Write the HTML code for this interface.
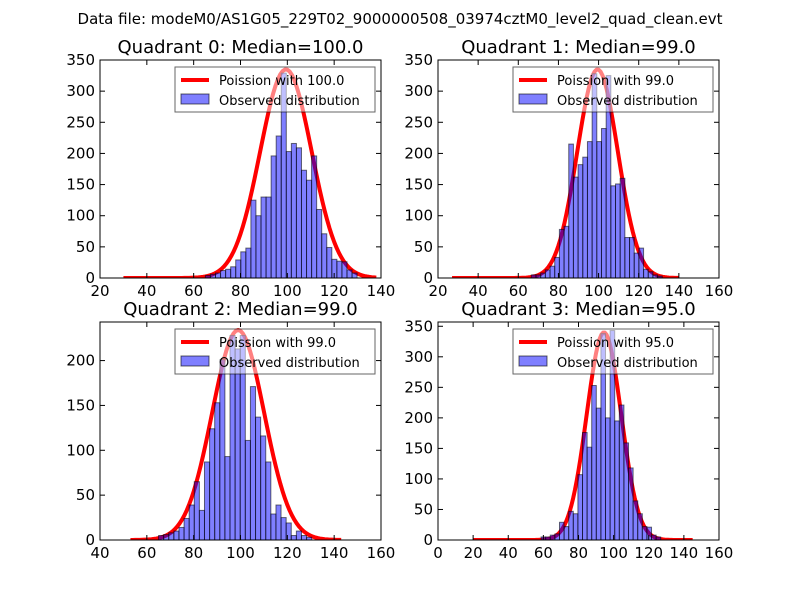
<!DOCTYPE html>
<html><head><meta charset="utf-8"><style>
body{margin:0;background:#fff;}
svg text{font-family:"DejaVu Sans","Liberation Sans",sans-serif;}
</style></head><body>
<svg id="fig" width="800" height="600" xmlns="http://www.w3.org/2000/svg">
<rect width="800" height="600" fill="#fff"/>
<text x="400" y="24" text-anchor="middle" font-size="15">Data file: modeM0/AS1G05_229T02_9000000508_03974cztM0_level2_quad_clean.evt</text>
</svg>
<script>
// Quadrant data
const q0Counts=[4,6,8,12,14,18,29,42,48,125,100,130,130,196,228,329,203,216,209,173,157,196,110,71,49,30,27,26,13,8];
const q0Start=[65.0]; const q0Width=[2.16];
const q1Counts=[5,5,8,13,19,33,78,83,215,162,182,194,219,328,219,240,325,148,151,160,65,65,40,48,14,10,5,3];
const q1Start=[66.5]; const q1Width=[2.33];
const q2Counts=[5,6,8,10,14,24,39,65,33,87,124,153,201,93,228,213,228,111,171,137,116,87,29,39,25,19,5,10,5,3];
const q2Start=[65.0]; const q2Width=[2.18];
const q3Counts=[5,5,8,10,29,22,47,43,107,176,152,253,216,338,200,343,195,221,159,118,64,43,22,21,8,5];
const q3Start=[58.7]; const q3Width=[2.62];
const lambdas=[100,99,99,95];
const curveCenters=[99.4,99.5,99,94.5];
const sigmas=[11,10.1,11.1,9.8];
const peaks=[335,335,234,340];
const curveRange=[[30,138],[27,140],[53,143],[20,145]];
const xTicks=[[20,40,60,80,100,120,140],[20,40,60,80,100,120,140,160],[40,60,80,100,120,140,160],[0,20,40,60,80,100,120,140,160]];
const yTicks=[[0,50,100,150,200,250,300,350],[0,50,100,150,200,250,300,350],[0,50,100,150,200],[0,50,100,150,200,250,300,350]];
const xDomains=[[20,140],[20,160],[40,160],[0,160]];
const yDomains=[[0,350],[0,350],[0,243],[0,357]];
const titles=["Quadrant 0: Median=100.0","Quadrant 1: Median=99.0","Quadrant 2: Median=99.0","Quadrant 3: Median=95.0"];

const NS="http://www.w3.org/2000/svg";
const svg=document.getElementById('fig');
function mk(tag,attrs,parent){const e=document.createElementNS(NS,tag);for(const k in attrs)e.setAttribute(k,attrs[k]);(parent||svg).appendChild(e);return e;}
const boxes=[[100,60,381,278],[438,60,719,278],[100,322,381,540],[438,322,719,540]];
const counts=[q0Counts,q1Counts,q2Counts,q3Counts];
const starts=[q0Start[0],q1Start[0],q2Start[0],q3Start[0]];
const widths=[q0Width[0],q1Width[0],q2Width[0],q3Width[0]];
for(let q=0;q<4;q++){
  const [L,T,R,B]=boxes[q];
  const g=mk('g',{});
  
  
  const xd=xDomains[q],yd=yDomains[q];
  const X=v=>L+(v-xd[0])/(xd[1]-xd[0])*(R-L);
  const Y=v=>B-(v-yd[0])/(yd[1]-yd[0])*(B-T);
  const clipId='clip'+q;
  const cp=mk('clipPath',{id:clipId},g);mk('rect',{x:L,y:T,width:R-L,height:B-T},cp);
  const lam=lambdas[q],pk=peaks[q],mu=curveCenters[q],s=sigmas[q];
  let d='';
  for(let k=curveRange[q][0];k<=curveRange[q][1];k++){
    const v=pk*Math.exp(-(k-mu)*(k-mu)/(2*s*s));
    d+=(d?'L':'M')+X(k).toFixed(2)+','+Y(v).toFixed(2);
  }
  const c=mk('path',{d:d,fill:'none',stroke:'#ff0000','stroke-width':4,'stroke-linejoin':'round','clip-path':'url(#'+clipId+')'},g);
  
  
  counts[q].forEach((n,i)=>{
    const x0=starts[q]+i*widths[q];
    const b=mk('rect',{x:X(x0),y:Y(n),width:X(x0+widths[q])-X(x0),height:Y(0)-Y(n),fill:'rgba(0,0,255,0.5)',stroke:'rgba(0,0,0,0.55)','stroke-width':1,'clip-path':'url(#'+clipId+')'},g);
    
    
  });
  mk('rect',{x:L,y:T,width:R-L,height:B-T,fill:'none',stroke:'#000','stroke-width':1},g);
  xTicks[q].forEach(t=>{
    const x=X(t);
    mk('line',{x1:x,y1:B,x2:x,y2:B-5,stroke:'#000'},g);
    mk('line',{x1:x,y1:T,x2:x,y2:T+5,stroke:'#000'},g);
    const tx=mk('text',{x:x,y:B+18,'text-anchor':'middle','font-size':15},g);tx.textContent=t;
    
    
  });
  yTicks[q].forEach(t=>{
    const y=Y(t);
    mk('line',{x1:L,y1:y,x2:L+5,y2:y,stroke:'#000'},g);
    mk('line',{x1:R,y1:y,x2:R-5,y2:y,stroke:'#000'},g);
    const ty=mk('text',{x:L-5,y:y+5,'text-anchor':'end','font-size':15},g);ty.textContent=t;
    
    
  });
  const tt=mk('text',{x:(L+R)/2,y:T-7,'text-anchor':'middle','font-size':18},g);tt.textContent=titles[q];
  
  
  const lg=mk('g',{},g);
  
  
  const lx=L+75,ly=T+7;
  mk('rect',{x:lx,y:ly,width:200,height:45,fill:'rgba(255,255,255,0.5)',stroke:'rgba(0,0,0,0.6)','stroke-width':1},lg);
  mk('line',{x1:lx+6,y1:ly+13,x2:lx+34,y2:ly+13,stroke:'#ff0000','stroke-width':4},lg);
  const t1=mk('text',{x:lx+44,y:ly+18,'font-size':13},lg);t1.textContent='Poission with '+lam.toFixed(1);
  
  
  mk('rect',{x:lx+6,y:ly+27,width:28,height:10,fill:'rgba(0,0,255,0.5)',stroke:'rgba(0,0,0,0.6)'},lg);
  const t2=mk('text',{x:lx+44,y:ly+38,'font-size':13},lg);t2.textContent='Observed distribution';
  
  
}
</script>
</body></html>
